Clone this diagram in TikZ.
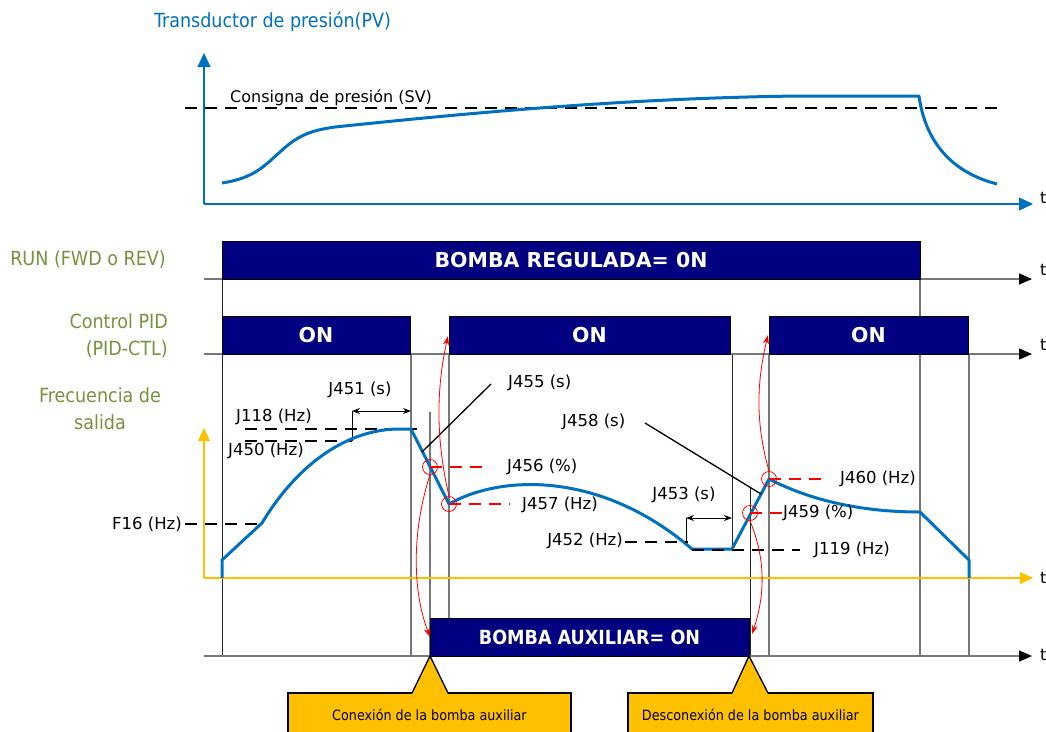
\documentclass[tikz,border=0pt]{standalone}
\usepackage{fontspec}
\setmainfont{DejaVu Sans}
\newfontfamily\tah{DejaVu Sans Condensed}
\usetikzlibrary{arrows.meta}
\definecolor{navy}{RGB}{0,0,128}
\definecolor{pvblue}{RGB}{0,112,192}
\definecolor{lblgreen}{RGB}{118,146,60}
\definecolor{amber}{RGB}{255,192,0}
\definecolor{lgray}{RGB}{120,120,120}
\tikzset{
  statebox/.style={draw=black, line width=1pt, fill=navy, text=white, inner sep=0pt, outer sep=0pt,
    font=\bfseries\fontsize{20.5}{22}\selectfont},
  rowline/.style={lgray, line width=1.3pt, -{Triangle[length=13pt,width=11pt,color=black]}},
  vline/.style={lgray, line width=1.1pt},
  vlineb/.style={black!85, line width=1pt},
  jlabel/.style={font=\fontsize{16.5}{18}\selectfont, inner sep=0pt},
  tlabel/.style={font=\fontsize{16}{18}\selectfont, anchor=west, inner sep=0pt},
  blackdash/.style={black, line width=1.4pt, dash pattern=on 12pt off 8pt},
  reddash/.style={red, line width=1.4pt, dash pattern=on 12pt off 8pt},
  redcirc/.style={draw=red, line width=0.8pt, circle, minimum size=15pt, inner sep=0pt},
  redarrow/.style={red, line width=0.8pt, -{Stealth[length=9pt,width=6pt]}},
  dimarrow/.style={black, line width=1pt, {Stealth[length=8pt,width=6pt]}-{Stealth[length=8pt,width=6pt]}},
  greenlbl/.style={text=lblgreen, font=\tah\fontsize{19.5}{27}\selectfont, inner sep=0pt},
  curve/.style={pvblue, line width=3pt, line join=round},
  calloutbox/.style={draw=black, line width=1.3pt, fill=amber, inner sep=0pt, outer sep=0pt,
    font=\tah\fontsize{14.2}{16}\selectfont, text depth=0pt}
}
\begin{document}
\begin{tikzpicture}[x=1pt,y=-1pt]
\useasboundingbox (0,0) rectangle (1046,731);

% ---------- PV plot ----------
\node[anchor=west, text=pvblue, font=\tah\fontsize{19.5}{22}\selectfont, inner sep=0pt] (title) at (154,22) {Transductor de presión(PV)};
\coordinate (pvo) at (204,204);
\coordinate (pvy) at (204,53);
\coordinate (pvx) at (1033,204);
\draw[pvblue, line width=1.2pt, -{Triangle[length=14pt,width=13pt]}] (pvo) -- (pvy);
\draw[pvblue, line width=1.2pt, -{Triangle[length=14pt,width=13pt]}] (pvo) -- (pvx);
\node[tlabel] (t0) at (1040,198) {t};
\coordinate (sv1) at (185,108);
\coordinate (sv2) at (997,108);
\draw[blackdash] (sv1) -- (sv2);
\node[jlabel, font=\fontsize{16}{18}\selectfont, anchor=base west] (svlbl) at (230,102) {Consigna de presión (SV)};
\draw[curve] (222,183) .. controls (255,178) and (265,165) .. (280,152)
   .. controls (300,133) and (315,130) .. (335,127)
   .. controls (450,115) and (620,98) .. (800,96) -- (919,96)
   .. controls (925,140) and (950,172) .. (997,184);

% ---------- green labels ----------
\node[greenlbl, anchor=east] (runlbl) at (166,259) {RUN (FWD o REV)};
\node[greenlbl, anchor=east, align=right] (pidlbl) at (168,336) {Control PID\\(PID-CTL)};
\node[greenlbl, align=center] (freqlbl) at (100,409) {Frecuencia de\\salida};

% ---------- vertical guide lines ----------
\draw[vlineb] (222,279) -- (222,656);
\draw[vline] (411,354) -- (411,656);
\draw[vline] (430,412) -- (430,656);
\draw[vline] (449,354) -- (449,618);
\draw[vlineb] (732,354) -- (732,550);
\draw[vlineb] (750,487) -- (750,656);
\draw[vline] (769,354) -- (769,656);
\draw[vline] (920,279) -- (920,656);
\draw[vline] (969,354) -- (969,656);

% ---------- row lines ----------
\coordinate (r1a) at (204,279); \coordinate (r1b) at (1032,279);
\coordinate (r2a) at (204,354); \coordinate (r2b) at (1032,354);
\coordinate (r4a) at (204,656); \coordinate (r4b) at (1032,656);
\draw[rowline] (r1a) -- (r1b);
\draw[rowline] (r2a) -- (r2b);
\draw[rowline] (r4a) -- (r4b);
\node[tlabel] (t1) at (1040,270) {t};
\node[tlabel] (t2) at (1040,345) {t};
\node[tlabel] (t4) at (1040,655) {t};

% ---------- state boxes ----------
\node[statebox, anchor=north west, minimum width=698pt, minimum height=38pt] (run) at (222,241) {BOMBA REGULADA= 0N};
\node[statebox, anchor=north west, minimum width=188pt, minimum height=38pt] (pid1) at (222,316) {ON};
\node[statebox, anchor=north west, minimum width=281pt, minimum height=38pt] (pid2) at (449,316) {ON};
\node[statebox, anchor=north west, minimum width=199pt, minimum height=38pt] (pid3) at (769,316) {ON};
\node[statebox, font=\tah\bfseries\fontsize{19.5}{22}\selectfont, anchor=north west, minimum width=319pt, minimum height=38pt] (aux) at (430,618) {BOMBA AUXILIAR= ON};

% ---------- frequency axes ----------
\coordinate (fo) at (204,578);
\coordinate (fy) at (204,428);
\coordinate (fx) at (1033,578);
\draw[amber, line width=1.1pt, -{Triangle[length=13pt,width=12pt]}] (fo) -- (fy);
\draw[amber, line width=1.1pt, -{Triangle[length=13pt,width=12pt]}] (fo) -- (fx);
\node[tlabel] (t3) at (1040,578) {t};

% ---------- dashed reference lines ----------
\node[jlabel, anchor=east] (f16) at (182,524) {F16 (Hz)};
\draw[blackdash] (185,524) -- (262,524);
\node[jlabel, anchor=west] (j118) at (236,417) {J118 (Hz)};
\draw[blackdash] (245,429) -- (420,429);
\node[jlabel, anchor=west] (j450) at (228,451) {J450 (Hz)};
\draw[blackdash] (245,441) -- (352,441);
\coordinate (j451a) at (352,411);
\coordinate (j451b) at (411,411);
\draw[black, line width=1pt] (352,441) -- (j451a);
\draw[dimarrow] (j451a) -- (j451b);
\node[jlabel] (j451) at (360,390) {J451 (s)};

% ---------- frequency curve ----------
\draw[curve] (222,578) -- (222,560) -- (262,523)
   .. controls (300,460) and (350,430) .. (397,429) -- (411,429) -- (449,504)
   .. controls (500,475) and (600,470) .. (692,549) -- (732,549) -- (769,479)
   .. controls (810,500) and (860,512) .. (920,512) -- (969,560) -- (969,578);

% ---------- J455..J460 ----------
\node[jlabel, anchor=west] (j455) at (508,383) {J455 (s)};
\draw[black, line width=1.3pt] (422,452) -- (491,384);
\node[redcirc] (c456) at (430,467) {};
\node[redcirc] (c457) at (449,504) {};
\node[redcirc] (c460) at (769,479) {};
\node[redcirc] (c459) at (750,513) {};
\node[jlabel, anchor=west] (j456) at (507,467) {J456 (\%)};
\draw[reddash] (c456.center) -- (490,467);
\node[jlabel, anchor=west] (j457) at (522,505) {J457 (Hz)};
\draw[reddash] (c457.center) -- (510,504);
\node[jlabel, anchor=west] (j458) at (562,422) {J458 (s)};
\draw[black, line width=1.3pt] (645,423) -- (761,494);
\node[jlabel] (j453) at (684,495) {J453 (s)};
\coordinate (j453a) at (686,518);
\coordinate (j453b) at (732,518);
\draw[dimarrow] (j453a) -- (j453b);
\draw[black, line width=1pt] (j453a) -- (686,542);
\node[jlabel, anchor=east] (j452) at (623,541) {J452 (Hz)};
\draw[blackdash] (625,542) -- (688,542);
\node[jlabel, anchor=west] (j119) at (814,550) {J119 (Hz)};
\draw[blackdash] (692,550) -- (800,550);
\node[jlabel, anchor=west] (j459) at (783,513) {J459 (\%)};
\draw[reddash] (c459.center) -- (783,513);
\node[jlabel, anchor=west] (j460) at (840,479) {J460 (Hz)};
\draw[reddash] (c460.center) -- (828,479);

% ---------- red arrows ----------
\coordinate (a1e) at (448,336);
\coordinate (a2e) at (430,637);
\coordinate (a3e) at (768,335);
\coordinate (a4e) at (752,634);
\draw[redarrow] (c457.north) .. controls (436,440) and (436,390) .. (a1e);
\draw[redarrow] (c456.south) .. controls (412,530) and (412,590) .. (a2e);
\draw[redarrow] (c460.north) .. controls (756,425) and (756,385) .. (a3e);
\draw[redarrow] (c459.south) .. controls (766,560) and (765,595) .. (a4e);

% ---------- callouts ----------
\node[calloutbox, anchor=north west, minimum width=283pt, minimum height=44pt] (co1) at (288,693) {Conexión de la bomba auxiliar};
\fill[amber] (412,694.2) -- (aux.south west) -- (448,694.2) -- cycle;
\draw[black, line width=1.3pt, line join=miter] (412,693) -- (aux.south west) -- (448,693);
\node[calloutbox, anchor=north west, minimum width=245pt, minimum height=44pt] (co2) at (628,693) {Desconexión de la bomba auxiliar};
\fill[amber] (732,694.2) -- (aux.south east) -- (768,694.2) -- cycle;
\draw[black, line width=1.3pt, line join=miter] (732,693) -- (aux.south east) -- (768,693);
\end{tikzpicture}
\end{document}
